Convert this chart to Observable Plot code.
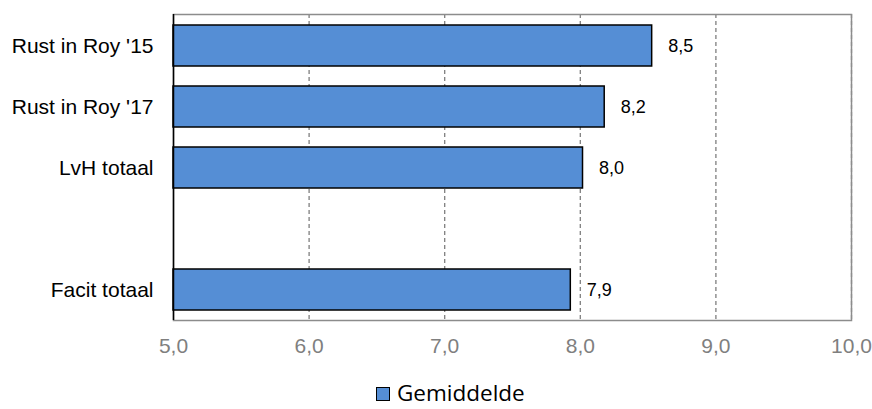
<!DOCTYPE html>
<html>
<head>
<meta charset="utf-8">
<script src="https://cdn.jsdelivr.net/npm/d3@7"></script>
<script src="https://cdn.jsdelivr.net/npm/@observablehq/plot@0.6"></script>
<style>
  html, body { margin: 0; padding: 0; background: #fff; overflow: hidden; }
  #wrap { position: relative; width: 872px; height: 409px; }
  #legend { position: absolute; left: 376px; top: 378px; font-family: "Open Sans", "Noto Sans", sans-serif; font-size: 22.5px; line-height: 30px; color: #000;
    display: flex; align-items: center; gap: 7px; }
  #legend .sw { width: 14px; height: 14px; background: #558ED5; border: 1.5px solid #000; box-sizing: border-box; margin-top: 2px; }
</style>
</head>
<body>
<div id="wrap">
<div id="chart"></div>
<div id="legend"><span class="sw"></span><span>Gemiddelde</span></div>
</div>
<script>
const categories = ["Rust in Roy '15", "Rust in Roy '17", "LvH totaal", " ", "Facit totaal"];
const barCategories = ["Rust in Roy '15", "Rust in Roy '17", "LvH totaal", "Facit totaal"];
const values = [8.53, 8.18, 8.02, 7.93];
const xTicks = [5, 6, 7, 8, 9, 10];
const seriesName = "Gemiddelde";

const data = barCategories.map((c, i) => ({cat: c, value: values[i]}));
const comma = v => d3.format(".1f")(v).replace(".", ",");

const chart = Plot.plot({
  width: 872,
  height: 372,
  marginLeft: 173,
  marginRight: 21,
  marginTop: 14,
  marginBottom: 52,
  style: {fontFamily: "'Liberation Sans', Arial, sans-serif", fontSize: "20px", color: "#000", background: "#fff"},
  x: {domain: [5, 10], ticks: xTicks, tickFormat: comma},
  y: {domain: categories, paddingInner: 0.33, paddingOuter: 0.165, label: null},
  marks: [
    Plot.ruleX(xTicks.slice(1), {stroke: "#7f7f7f", strokeWidth: 1.3, strokeDasharray: "4,3"}),
    Plot.frame({stroke: "#8c8c8c", strokeWidth: 1.5}),
    Plot.barX(data, {x1: () => xTicks[0], x2: "value", y: "cat", fill: "#558ED5", stroke: "#000", strokeWidth: 1.5}),
    Plot.text(data, {x: "value", y: "cat", text: d => comma(d.value), dx: 16, textAnchor: "start", fontSize: 18, fill: "#000"}),
    Plot.ruleX([xTicks[0]], {stroke: "#000", strokeWidth: 1.5}),
    Plot.axisY({tickSize: 0, tickPadding: 20, label: null, fontSize: 21}),
    Plot.axisX({tickSize: 0, tickPadding: 18, label: null, fill: "#7f7f7f", fontSize: 21, ticks: xTicks, tickFormat: comma})
  ]
});
document.getElementById("chart").appendChild(chart);
</script>
</body>
</html>
